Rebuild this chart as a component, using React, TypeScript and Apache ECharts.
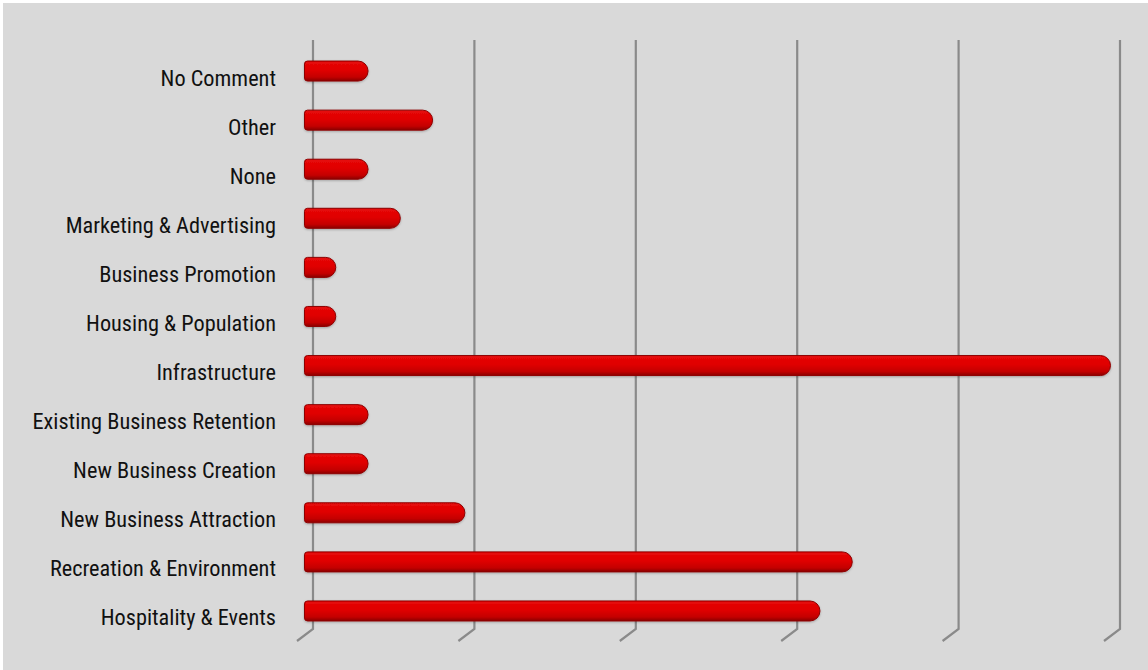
import React, { useEffect, useRef } from "react";
import * as echarts from "echarts";

const categories = [
  "No Comment",
  "Other",
  "None",
  "Marketing & Advertising",
  "Business Promotion",
  "Housing & Population",
  "Infrastructure",
  "Existing Business Retention",
  "New Business Creation",
  "New Business Attraction",
  "Recreation & Environment",
  "Hospitality & Events",
];
const values = [2, 4, 2, 3, 1, 1, 25, 2, 2, 5, 17, 16];
const gridTicks = [0, 5, 10, 15, 20, 25];

export default function App() {
  const ref = useRef<HTMLDivElement>(null);
  useEffect(() => {
    if (!ref.current) return;
    const chart = echarts.init(ref.current, undefined, { renderer: "svg" });
    const option: any = {
      animation: false,
      backgroundColor: "#ffffff",
      graphic: [
        {
          type: "rect",
          shape: { x: 3, y: 3, width: 1145, height: 667 },
          style: { fill: "#d9d9d9" },
          z: -10,
          silent: true,
        },
      ],
      grid: [
        { left: 304, width: 807, top: 46.5, height: 589, outerBoundsMode: "none", containLabel: false },
        { left: 313, width: 807, top: 40, height: 589, outerBoundsMode: "none", containLabel: false },
      ],
      xAxis: [
        {
          gridIndex: 0,
          type: "value",
          min: 0,
          max: 25,
          interval: 5,
          axisLine: { show: false },
          axisTick: { show: false },
          axisLabel: { show: false },
          splitLine: { show: false },
        },
        {
          gridIndex: 1,
          type: "value",
          min: 0,
          max: 25,
          interval: 5,
          axisLine: { show: false },
          axisTick: { show: false },
          axisLabel: { show: false },
          splitLine: { show: false },
        },
      ],
      yAxis: [
        {
          gridIndex: 0,
          type: "category",
          data: categories,
          inverse: true,
          axisLine: { show: false },
          axisTick: { show: false },
          axisLabel: {
            margin: 28,
            fontSize: 22.3,
            color: "#111111",
            fontFamily: "'Roboto Condensed', 'Liberation Sans', sans-serif",
            verticalAlign: "top",
            lineHeight: 13,
          },
        },
        {
          gridIndex: 1,
          type: "value",
          min: 0,
          max: 1,
          show: false,
        },
      ],
      series: [
        {
          type: "custom",
          xAxisIndex: 1,
          yAxisIndex: 1,
          z: 1,
          silent: true,
          data: gridTicks.map((t) => [t]),
          renderItem: (params: any, api: any) => {
            const cs = params.coordSys;
            const x = api.coord([api.value(0), 0])[0];
            const top = cs.y;
            const bottom = cs.y + cs.height;
            return {
              type: "polyline",
              shape: {
                points: [
                  [x, top],
                  [x, bottom],
                  [x - 16, bottom + 12],
                ],
              },
              style: { stroke: "#8a8a8a", lineWidth: 2.2, fill: "none" },
            };
          },
        },
        {
          type: "bar",
          xAxisIndex: 0,
          yAxisIndex: 0,
          z: 3,
          data: values,
          barWidth: 21,
          itemStyle: {
            borderRadius: [3, 10, 10, 3],
            borderColor: "#8e0000",
            borderWidth: 1,
            color: new echarts.graphic.LinearGradient(0, 0, 0, 1, [
              { offset: 0, color: "#e60a0a" },
              { offset: 0.45, color: "#e00000" },
              { offset: 0.8, color: "#c40000" },
              { offset: 1, color: "#8a0000" },
            ]),
            shadowColor: "rgba(0,0,0,0.25)",
            shadowBlur: 2,
            shadowOffsetY: 1,
          },
        },
      ],
    };
    chart.setOption(option);
    return () => chart.dispose();
  }, []);
  return (
    <div
      ref={ref}
      style={{ position: "fixed", left: 0, top: 0, width: 1148, height: 670 }}
    />
  );
}
